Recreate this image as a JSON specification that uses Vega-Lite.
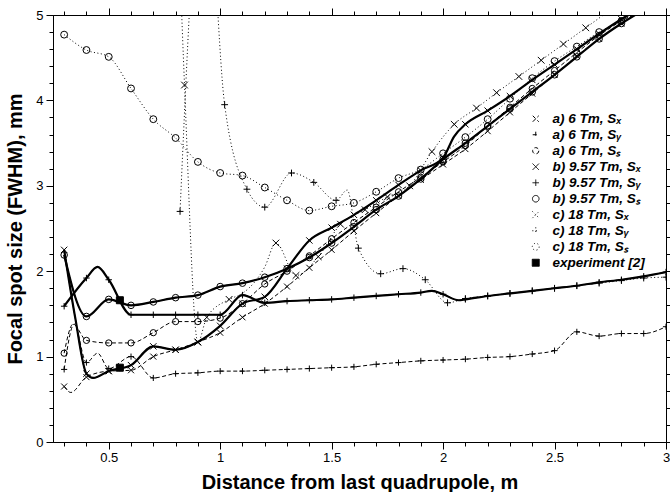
{
  "$schema": "https://vega.github.io/schema/vega-lite/v6.json",
  "width": 613,
  "height": 427,
  "autosize": {"type": "none"},
  "padding": {"left": 53, "top": 15, "right": 4, "bottom": 50},
  "config": {
    "font": "Liberation Sans",
    "view": {"stroke": "black", "strokeWidth": 1},
    "axis": {"domainColor": "black", "tickColor": "black", "labelColor": "black", "titleColor": "black", "grid": false, "labelFontSize": 13, "labelFont": "Liberation Sans", "titleFont": "Liberation Sans", "titleFontWeight": "bold", "titleFontSize": 20}
  },
  "datasets": {
    "curves": [
      {"s":"a) 6 Tm, Sₓ","x":0.3,"y":0.65},{"s":"a) 6 Tm, Sₓ","x":0.33,"y":0.58,"sym":0},{"s":"a) 6 Tm, Sₓ","x":0.4,"y":0.76},{"s":"a) 6 Tm, Sₓ","x":0.5,"y":0.83},{"s":"a) 6 Tm, Sₓ","x":0.6,"y":0.84},{"s":"a) 6 Tm, Sₓ","x":0.7,"y":1.0},{"s":"a) 6 Tm, Sₓ","x":0.8,"y":1.08},{"s":"a) 6 Tm, Sₓ","x":0.9,"y":1.17},{"s":"a) 6 Tm, Sₓ","x":1.0,"y":1.28},{"s":"a) 6 Tm, Sₓ","x":1.1,"y":1.46},{"s":"a) 6 Tm, Sₓ","x":1.2,"y":1.62},{"s":"a) 6 Tm, Sₓ","x":1.3,"y":1.82},{"s":"a) 6 Tm, Sₓ","x":1.4,"y":2.04},{"s":"a) 6 Tm, Sₓ","x":1.5,"y":2.25},{"s":"a) 6 Tm, Sₓ","x":1.6,"y":2.47},{"s":"a) 6 Tm, Sₓ","x":1.7,"y":2.68},{"s":"a) 6 Tm, Sₓ","x":1.8,"y":2.88},{"s":"a) 6 Tm, Sₓ","x":1.9,"y":3.07},{"s":"a) 6 Tm, Sₓ","x":2.0,"y":3.25},{"s":"a) 6 Tm, Sₓ","x":2.1,"y":3.43},{"s":"a) 6 Tm, Sₓ","x":2.2,"y":3.64},{"s":"a) 6 Tm, Sₓ","x":2.3,"y":3.86},{"s":"a) 6 Tm, Sₓ","x":2.4,"y":4.08},{"s":"a) 6 Tm, Sₓ","x":2.5,"y":4.3},{"s":"a) 6 Tm, Sₓ","x":2.6,"y":4.52},{"s":"a) 6 Tm, Sₓ","x":2.7,"y":4.72},{"s":"a) 6 Tm, Sₓ","x":2.8,"y":4.9},{"s":"a) 6 Tm, Sₓ","x":2.9,"y":5.06},

      {"s":"a) 6 Tm, Sᵧ","x":0.3,"y":0.85},{"s":"a) 6 Tm, Sᵧ","x":0.345,"y":1.38,"sym":0},{"s":"a) 6 Tm, Sᵧ","x":0.4,"y":0.93},{"s":"a) 6 Tm, Sᵧ","x":0.45,"y":1.04,"sym":0},{"s":"a) 6 Tm, Sᵧ","x":0.5,"y":0.86},{"s":"a) 6 Tm, Sᵧ","x":0.6,"y":1.0},{"s":"a) 6 Tm, Sᵧ","x":0.7,"y":0.75},{"s":"a) 6 Tm, Sᵧ","x":0.8,"y":0.8},{"s":"a) 6 Tm, Sᵧ","x":0.9,"y":0.81},{"s":"a) 6 Tm, Sᵧ","x":1.0,"y":0.83},{"s":"a) 6 Tm, Sᵧ","x":1.1,"y":0.83},{"s":"a) 6 Tm, Sᵧ","x":1.2,"y":0.84},{"s":"a) 6 Tm, Sᵧ","x":1.3,"y":0.85},{"s":"a) 6 Tm, Sᵧ","x":1.4,"y":0.86},{"s":"a) 6 Tm, Sᵧ","x":1.5,"y":0.87},{"s":"a) 6 Tm, Sᵧ","x":1.6,"y":0.88},{"s":"a) 6 Tm, Sᵧ","x":1.7,"y":0.91},{"s":"a) 6 Tm, Sᵧ","x":1.8,"y":0.93},{"s":"a) 6 Tm, Sᵧ","x":1.9,"y":0.95},{"s":"a) 6 Tm, Sᵧ","x":2.0,"y":0.96},{"s":"a) 6 Tm, Sᵧ","x":2.1,"y":0.97},{"s":"a) 6 Tm, Sᵧ","x":2.2,"y":0.99},{"s":"a) 6 Tm, Sᵧ","x":2.3,"y":1.0},{"s":"a) 6 Tm, Sᵧ","x":2.4,"y":1.03},{"s":"a) 6 Tm, Sᵧ","x":2.5,"y":1.07},{"s":"a) 6 Tm, Sᵧ","x":2.6,"y":1.29},{"s":"a) 6 Tm, Sᵧ","x":2.7,"y":1.24},{"s":"a) 6 Tm, Sᵧ","x":2.8,"y":1.27},{"s":"a) 6 Tm, Sᵧ","x":2.9,"y":1.27},{"s":"a) 6 Tm, Sᵧ","x":3.0,"y":1.35},

      {"s":"a) 6 Tm, Sₛ","x":0.3,"y":1.04},{"s":"a) 6 Tm, Sₛ","x":0.34,"y":1.38,"sym":0},{"s":"a) 6 Tm, Sₛ","x":0.4,"y":1.19},{"s":"a) 6 Tm, Sₛ","x":0.5,"y":1.16},{"s":"a) 6 Tm, Sₛ","x":0.6,"y":1.16},{"s":"a) 6 Tm, Sₛ","x":0.7,"y":1.28},{"s":"a) 6 Tm, Sₛ","x":0.8,"y":1.41},{"s":"a) 6 Tm, Sₛ","x":0.9,"y":1.41},{"s":"a) 6 Tm, Sₛ","x":1.0,"y":1.45},{"s":"a) 6 Tm, Sₛ","x":1.1,"y":1.62},{"s":"a) 6 Tm, Sₛ","x":1.2,"y":1.85},{"s":"a) 6 Tm, Sₛ","x":1.3,"y":2.0},{"s":"a) 6 Tm, Sₛ","x":1.4,"y":2.18},{"s":"a) 6 Tm, Sₛ","x":1.5,"y":2.38},{"s":"a) 6 Tm, Sₛ","x":1.6,"y":2.57},{"s":"a) 6 Tm, Sₛ","x":1.7,"y":2.75},{"s":"a) 6 Tm, Sₛ","x":1.8,"y":2.93},{"s":"a) 6 Tm, Sₛ","x":1.9,"y":3.1},{"s":"a) 6 Tm, Sₛ","x":2.0,"y":3.28},{"s":"a) 6 Tm, Sₛ","x":2.1,"y":3.47},{"s":"a) 6 Tm, Sₛ","x":2.2,"y":3.7},{"s":"a) 6 Tm, Sₛ","x":2.3,"y":3.92},{"s":"a) 6 Tm, Sₛ","x":2.4,"y":4.14},{"s":"a) 6 Tm, Sₛ","x":2.5,"y":4.35},{"s":"a) 6 Tm, Sₛ","x":2.6,"y":4.56},{"s":"a) 6 Tm, Sₛ","x":2.7,"y":4.76},{"s":"a) 6 Tm, Sₛ","x":2.8,"y":4.93},{"s":"a) 6 Tm, Sₛ","x":2.9,"y":5.06},

      {"s":"b) 9.57 Tm, Sₓ","x":0.3,"y":2.25},{"s":"b) 9.57 Tm, Sₓ","x":0.35,"y":1.45,"sym":0},{"s":"b) 9.57 Tm, Sₓ","x":0.4,"y":0.8},{"s":"b) 9.57 Tm, Sₓ","x":0.43,"y":0.75,"sym":0},{"s":"b) 9.57 Tm, Sₓ","x":0.5,"y":0.83},{"s":"b) 9.57 Tm, Sₓ","x":0.6,"y":0.9},{"s":"b) 9.57 Tm, Sₓ","x":0.7,"y":1.12},{"s":"b) 9.57 Tm, Sₓ","x":0.8,"y":1.08},{"s":"b) 9.57 Tm, Sₓ","x":0.9,"y":1.17},{"s":"b) 9.57 Tm, Sₓ","x":1.0,"y":1.36},{"s":"b) 9.57 Tm, Sₓ","x":1.1,"y":1.62},{"s":"b) 9.57 Tm, Sₓ","x":1.2,"y":1.7},{"s":"b) 9.57 Tm, Sₓ","x":1.3,"y":2.03},{"s":"b) 9.57 Tm, Sₓ","x":1.4,"y":2.36},{"s":"b) 9.57 Tm, Sₓ","x":1.5,"y":2.51},{"s":"b) 9.57 Tm, Sₓ","x":1.6,"y":2.66},{"s":"b) 9.57 Tm, Sₓ","x":1.7,"y":2.83},{"s":"b) 9.57 Tm, Sₓ","x":1.8,"y":3.01},{"s":"b) 9.57 Tm, Sₓ","x":1.9,"y":3.18},{"s":"b) 9.57 Tm, Sₓ","x":2.0,"y":3.33},{"s":"b) 9.57 Tm, Sₓ","x":2.05,"y":3.58,"sym":0},{"s":"b) 9.57 Tm, Sₓ","x":2.1,"y":3.72},{"s":"b) 9.57 Tm, Sₓ","x":2.2,"y":3.88},{"s":"b) 9.57 Tm, Sₓ","x":2.3,"y":4.05},{"s":"b) 9.57 Tm, Sₓ","x":2.4,"y":4.24},{"s":"b) 9.57 Tm, Sₓ","x":2.5,"y":4.42},{"s":"b) 9.57 Tm, Sₓ","x":2.6,"y":4.6},{"s":"b) 9.57 Tm, Sₓ","x":2.7,"y":4.78},{"s":"b) 9.57 Tm, Sₓ","x":2.8,"y":4.95},{"s":"b) 9.57 Tm, Sₓ","x":2.9,"y":5.1},

      {"s":"b) 9.57 Tm, Sᵧ","x":0.3,"y":1.59},{"s":"b) 9.57 Tm, Sᵧ","x":0.4,"y":1.92},{"s":"b) 9.57 Tm, Sᵧ","x":0.45,"y":2.05,"sym":0},{"s":"b) 9.57 Tm, Sᵧ","x":0.5,"y":1.9},{"s":"b) 9.57 Tm, Sᵧ","x":0.6,"y":1.49},{"s":"b) 9.57 Tm, Sᵧ","x":0.7,"y":1.49},{"s":"b) 9.57 Tm, Sᵧ","x":0.8,"y":1.49},{"s":"b) 9.57 Tm, Sᵧ","x":0.9,"y":1.49},{"s":"b) 9.57 Tm, Sᵧ","x":1.0,"y":1.49},{"s":"b) 9.57 Tm, Sᵧ","x":1.1,"y":1.72},{"s":"b) 9.57 Tm, Sᵧ","x":1.2,"y":1.63},{"s":"b) 9.57 Tm, Sᵧ","x":1.3,"y":1.65},{"s":"b) 9.57 Tm, Sᵧ","x":1.4,"y":1.66},{"s":"b) 9.57 Tm, Sᵧ","x":1.5,"y":1.67},{"s":"b) 9.57 Tm, Sᵧ","x":1.6,"y":1.69},{"s":"b) 9.57 Tm, Sᵧ","x":1.7,"y":1.71},{"s":"b) 9.57 Tm, Sᵧ","x":1.8,"y":1.73},{"s":"b) 9.57 Tm, Sᵧ","x":1.9,"y":1.75},{"s":"b) 9.57 Tm, Sᵧ","x":1.95,"y":1.77,"sym":0},{"s":"b) 9.57 Tm, Sᵧ","x":2.0,"y":1.73},{"s":"b) 9.57 Tm, Sᵧ","x":2.07,"y":1.66,"sym":0},{"s":"b) 9.57 Tm, Sᵧ","x":2.1,"y":1.67},{"s":"b) 9.57 Tm, Sᵧ","x":2.2,"y":1.71},{"s":"b) 9.57 Tm, Sᵧ","x":2.3,"y":1.74},{"s":"b) 9.57 Tm, Sᵧ","x":2.4,"y":1.77},{"s":"b) 9.57 Tm, Sᵧ","x":2.5,"y":1.8},{"s":"b) 9.57 Tm, Sᵧ","x":2.6,"y":1.83},{"s":"b) 9.57 Tm, Sᵧ","x":2.7,"y":1.87},{"s":"b) 9.57 Tm, Sᵧ","x":2.8,"y":1.9},{"s":"b) 9.57 Tm, Sᵧ","x":2.9,"y":1.94},{"s":"b) 9.57 Tm, Sᵧ","x":3.0,"y":1.99},

      {"s":"b) 9.57 Tm, Sₛ","x":0.3,"y":2.19},{"s":"b) 9.57 Tm, Sₛ","x":0.4,"y":1.47},{"s":"b) 9.57 Tm, Sₛ","x":0.5,"y":1.67},{"s":"b) 9.57 Tm, Sₛ","x":0.6,"y":1.6},{"s":"b) 9.57 Tm, Sₛ","x":0.7,"y":1.64},{"s":"b) 9.57 Tm, Sₛ","x":0.8,"y":1.69},{"s":"b) 9.57 Tm, Sₛ","x":0.9,"y":1.72},{"s":"b) 9.57 Tm, Sₛ","x":1.0,"y":1.82},{"s":"b) 9.57 Tm, Sₛ","x":1.1,"y":1.86},{"s":"b) 9.57 Tm, Sₛ","x":1.2,"y":1.93},{"s":"b) 9.57 Tm, Sₛ","x":1.3,"y":2.03},{"s":"b) 9.57 Tm, Sₛ","x":1.4,"y":2.16},{"s":"b) 9.57 Tm, Sₛ","x":1.5,"y":2.33},{"s":"b) 9.57 Tm, Sₛ","x":1.6,"y":2.52},{"s":"b) 9.57 Tm, Sₛ","x":1.7,"y":2.72},{"s":"b) 9.57 Tm, Sₛ","x":1.8,"y":2.88},{"s":"b) 9.57 Tm, Sₛ","x":1.9,"y":3.08},{"s":"b) 9.57 Tm, Sₛ","x":2.0,"y":3.31},{"s":"b) 9.57 Tm, Sₛ","x":2.1,"y":3.5},{"s":"b) 9.57 Tm, Sₛ","x":2.2,"y":3.7},{"s":"b) 9.57 Tm, Sₛ","x":2.3,"y":3.9},{"s":"b) 9.57 Tm, Sₛ","x":2.4,"y":4.1},{"s":"b) 9.57 Tm, Sₛ","x":2.5,"y":4.3},{"s":"b) 9.57 Tm, Sₛ","x":2.6,"y":4.51},{"s":"b) 9.57 Tm, Sₛ","x":2.7,"y":4.72},{"s":"b) 9.57 Tm, Sₛ","x":2.8,"y":4.9},{"s":"b) 9.57 Tm, Sₛ","x":2.9,"y":5.06},

      {"s":"c) 18 Tm, Sₓ","x":0.8,"y":7.0,"sym":0},{"s":"c) 18 Tm, Sₓ","x":0.84,"y":4.18},{"s":"c) 18 Tm, Sₓ","x":0.9,"y":1.17},{"s":"c) 18 Tm, Sₓ","x":0.94,"y":1.46},{"s":"c) 18 Tm, Sₓ","x":1.04,"y":1.67},{"s":"c) 18 Tm, Sₓ","x":1.1,"y":1.74,"sym":0},{"s":"c) 18 Tm, Sₓ","x":1.2,"y":2.05,"sym":0},{"s":"c) 18 Tm, Sₓ","x":1.25,"y":2.33},{"s":"c) 18 Tm, Sₓ","x":1.34,"y":1.95},{"s":"c) 18 Tm, Sₓ","x":1.44,"y":2.17},{"s":"c) 18 Tm, Sₓ","x":1.54,"y":2.55},{"s":"c) 18 Tm, Sₓ","x":1.65,"y":2.72},{"s":"c) 18 Tm, Sₓ","x":1.75,"y":2.87},{"s":"c) 18 Tm, Sₓ","x":1.85,"y":3.0},{"s":"c) 18 Tm, Sₓ","x":1.95,"y":3.4},{"s":"c) 18 Tm, Sₓ","x":2.05,"y":3.72},{"s":"c) 18 Tm, Sₓ","x":2.15,"y":3.91},{"s":"c) 18 Tm, Sₓ","x":2.24,"y":4.09},{"s":"c) 18 Tm, Sₓ","x":2.34,"y":4.28},{"s":"c) 18 Tm, Sₓ","x":2.44,"y":4.47},{"s":"c) 18 Tm, Sₓ","x":2.54,"y":4.66},{"s":"c) 18 Tm, Sₓ","x":2.64,"y":4.85},{"s":"c) 18 Tm, Sₓ","x":2.74,"y":5.04},

      {"s":"c) 18 Tm, Sᵧ","x":0.82,"y":2.7},{"s":"c) 18 Tm, Sᵧ","x":0.93,"y":7.0,"sym":0},{"s":"c) 18 Tm, Sᵧ","x":1.02,"y":3.95},{"s":"c) 18 Tm, Sᵧ","x":1.12,"y":2.96},{"s":"c) 18 Tm, Sᵧ","x":1.2,"y":2.75},{"s":"c) 18 Tm, Sᵧ","x":1.32,"y":3.15},{"s":"c) 18 Tm, Sᵧ","x":1.42,"y":3.04},{"s":"c) 18 Tm, Sᵧ","x":1.52,"y":2.83},{"s":"c) 18 Tm, Sᵧ","x":1.57,"y":2.95,"sym":0},{"s":"c) 18 Tm, Sᵧ","x":1.62,"y":2.27},{"s":"c) 18 Tm, Sᵧ","x":1.72,"y":1.97},{"s":"c) 18 Tm, Sᵧ","x":1.82,"y":2.03},{"s":"c) 18 Tm, Sᵧ","x":1.92,"y":1.9},{"s":"c) 18 Tm, Sᵧ","x":2.02,"y":1.63},{"s":"c) 18 Tm, Sᵧ","x":2.1,"y":1.68},{"s":"c) 18 Tm, Sᵧ","x":2.2,"y":1.71},{"s":"c) 18 Tm, Sᵧ","x":2.3,"y":1.74},{"s":"c) 18 Tm, Sᵧ","x":2.4,"y":1.77},{"s":"c) 18 Tm, Sᵧ","x":2.5,"y":1.8},{"s":"c) 18 Tm, Sᵧ","x":2.6,"y":1.83},{"s":"c) 18 Tm, Sᵧ","x":2.7,"y":1.86},{"s":"c) 18 Tm, Sᵧ","x":2.8,"y":1.89},{"s":"c) 18 Tm, Sᵧ","x":2.9,"y":1.92},{"s":"c) 18 Tm, Sᵧ","x":3.0,"y":1.93},

      {"s":"c) 18 Tm, Sₛ","x":0.3,"y":4.77},{"s":"c) 18 Tm, Sₛ","x":0.4,"y":4.59},{"s":"c) 18 Tm, Sₛ","x":0.5,"y":4.51},{"s":"c) 18 Tm, Sₛ","x":0.6,"y":4.14},{"s":"c) 18 Tm, Sₛ","x":0.7,"y":3.78},{"s":"c) 18 Tm, Sₛ","x":0.8,"y":3.56},{"s":"c) 18 Tm, Sₛ","x":0.9,"y":3.28},{"s":"c) 18 Tm, Sₛ","x":1.0,"y":3.15},{"s":"c) 18 Tm, Sₛ","x":1.1,"y":3.12},{"s":"c) 18 Tm, Sₛ","x":1.2,"y":2.98},{"s":"c) 18 Tm, Sₛ","x":1.3,"y":2.83},{"s":"c) 18 Tm, Sₛ","x":1.4,"y":2.71},{"s":"c) 18 Tm, Sₛ","x":1.5,"y":2.76},{"s":"c) 18 Tm, Sₛ","x":1.6,"y":2.8},{"s":"c) 18 Tm, Sₛ","x":1.7,"y":2.93},{"s":"c) 18 Tm, Sₛ","x":1.8,"y":3.09},{"s":"c) 18 Tm, Sₛ","x":1.9,"y":3.19},{"s":"c) 18 Tm, Sₛ","x":2.0,"y":3.38},{"s":"c) 18 Tm, Sₛ","x":2.1,"y":3.57},{"s":"c) 18 Tm, Sₛ","x":2.2,"y":3.78},{"s":"c) 18 Tm, Sₛ","x":2.3,"y":4.02},{"s":"c) 18 Tm, Sₛ","x":2.4,"y":4.26},{"s":"c) 18 Tm, Sₛ","x":2.5,"y":4.46},{"s":"c) 18 Tm, Sₛ","x":2.6,"y":4.63},{"s":"c) 18 Tm, Sₛ","x":2.7,"y":4.8},{"s":"c) 18 Tm, Sₛ","x":2.8,"y":4.93},{"s":"c) 18 Tm, Sₛ","x":2.9,"y":5.06},

      {"s":"experiment [2]","x":0.55,"y":1.66},{"s":"experiment [2]","x":0.55,"y":0.87}
    ]
  },
  "data": {"name": "curves"},
  "resolve": {"axis": {"x": "independent", "y": "independent"}},
  "layer": [
    {
      "transform": [{"filter": "datum.s !== 'experiment [2]'"}],
      "mark": {"type": "line", "interpolate": "monotone", "clip": true, "color": "black"},
      "encoding": {
        "x": {"field": "x", "type": "quantitative", "scale": {"domain": [0.25, 3], "nice": false, "zero": false},
          "axis": {"orient": "bottom", "title": "Distance from last quadrupole, m", "values": [0.3,0.4,0.5,0.6,0.7,0.8,0.9,1,1.1,1.2,1.3,1.4,1.5,1.6,1.7,1.8,1.9,2,2.1,2.2,2.3,2.4,2.5,2.6,2.7,2.8,2.9,3],
            "labelExpr": "abs(datum.value*2-round(datum.value*2))<0.001 ? format(datum.value, '.2~f') : ''",
            "tickSize": {"condition": {"test": "abs(datum.value*2-round(datum.value*2))<0.001", "value": 7}, "value": 4},
            "labelPadding": 2, "titlePadding": 8, "labelFlush": false, "labelOverlap": false}},
        "y": {"field": "y", "type": "quantitative", "scale": {"domain": [0, 5], "nice": false},
          "axis": {"orient": "left", "title": "Focal spot size (FWHM), mm", "values": [0,0.2,0.4,0.6,0.8,1,1.2,1.4,1.6,1.8,2,2.2,2.4,2.6,2.8,3,3.2,3.4,3.6,3.8,4,4.2,4.4,4.6,4.8,5],
            "labelExpr": "abs(datum.value-round(datum.value))<0.001 ? format(datum.value, 'd') : ''",
            "tickSize": {"condition": {"test": "abs(datum.value-round(datum.value))<0.001", "value": 7}, "value": 4},
            "labelPadding": 3, "titlePadding": 10, "labelFlush": false, "labelOverlap": false}},
        "strokeDash": {"field": "s", "type": "nominal",
          "scale": {"domain": ["a) 6 Tm, Sₓ","a) 6 Tm, Sᵧ","a) 6 Tm, Sₛ","b) 9.57 Tm, Sₓ","b) 9.57 Tm, Sᵧ","b) 9.57 Tm, Sₛ","c) 18 Tm, Sₓ","c) 18 Tm, Sᵧ","c) 18 Tm, Sₛ","experiment [2]"],
            "range": [[4,2.5],[4,2.5],[4,2.5],[1,0],[1,0],[1,0],[1,2.5],[1,2.5],[1,2.5],[1,0]]},
          "legend": {"title": null, "orient": "none", "legendX": 476, "legendY": 97, "labelFontSize": 13.5, "labelFontWeight": "bold", "labelFontStyle": "italic", "labelColor": "black", "rowPadding": 1, "padding": 0, "labelOffset": 10, "symbolStrokeColor": "black"}},
        "strokeWidth": {"field": "s", "type": "nominal",
          "scale": {"domain": ["a) 6 Tm, Sₓ","a) 6 Tm, Sᵧ","a) 6 Tm, Sₛ","b) 9.57 Tm, Sₓ","b) 9.57 Tm, Sᵧ","b) 9.57 Tm, Sₛ","c) 18 Tm, Sₓ","c) 18 Tm, Sᵧ","c) 18 Tm, Sₛ","experiment [2]"],
            "range": [1,1,1,2,2,2,1,1,1,1]},
          "legend": {"title": null, "orient": "none", "legendX": 476, "legendY": 97, "labelFontSize": 13.5, "labelFontWeight": "bold", "labelFontStyle": "italic", "labelColor": "black", "rowPadding": 1, "padding": 0, "labelOffset": 10}}
      }
    },
    {
      "transform": [{"filter": "slice(datum.s, 0, 1) === 'b'"}],
      "mark": {"type": "line", "interpolate": "monotone", "clip": true, "color": "black", "strokeWidth": 2.2},
      "encoding": {
        "x": {"field": "x", "type": "quantitative", "axis": null},
        "y": {"field": "y", "type": "quantitative", "axis": null},
        "detail": {"field": "s", "type": "nominal"}
      }
    },
    {
      "transform": [{"filter": "datum.sym !== 0"}],
      "mark": {"type": "point", "clip": true, "stroke": "black", "strokeWidth": 1, "opacity": 1},
      "encoding": {
        "x": {"field": "x", "type": "quantitative",
          "axis": {"orient": "top", "title": null, "values": [0.3,0.4,0.5,0.6,0.7,0.8,0.9,1,1.1,1.2,1.3,1.4,1.5,1.6,1.7,1.8,1.9,2,2.1,2.2,2.3,2.4,2.5,2.6,2.7,2.8,2.9,3], "labels": false,
            "tickSize": {"condition": {"test": "abs(datum.value*2-round(datum.value*2))<0.001", "value": 7}, "value": 4}}},
        "y": {"field": "y", "type": "quantitative",
          "axis": {"orient": "right", "title": null, "values": [0,0.2,0.4,0.6,0.8,1,1.2,1.4,1.6,1.8,2,2.2,2.4,2.6,2.8,3,3.2,3.4,3.6,3.8,4,4.2,4.4,4.6,4.8,5], "labels": false,
            "tickSize": {"condition": {"test": "abs(datum.value-round(datum.value))<0.001", "value": 7}, "value": 4}}},
        "shape": {"field": "s", "type": "nominal",
          "scale": {"domain": ["a) 6 Tm, Sₓ","a) 6 Tm, Sᵧ","a) 6 Tm, Sₛ","b) 9.57 Tm, Sₓ","b) 9.57 Tm, Sᵧ","b) 9.57 Tm, Sₛ","c) 18 Tm, Sₓ","c) 18 Tm, Sᵧ","c) 18 Tm, Sₛ","experiment [2]"],
            "range": ["M-1,-1L1,1M-1,1L1,-1","M-1,0L1,0M0,-1L0,1","circle","M-1,-1L1,1M-1,1L1,-1","M-1,0L1,0M0,-1L0,1","circle","M-1,-1L1,1M-1,1L1,-1","M-1,0L1,0M0,-1L0,1","circle","square"]},
          "legend": {"title": null, "orient": "none", "legendX": 476, "legendY": 97, "labelFontSize": 13.5, "labelFontWeight": "bold", "labelFontStyle": "italic", "labelColor": "black", "rowPadding": 1, "padding": 0, "labelOffset": 10}},
        "size": {"field": "s", "type": "nominal",
          "scale": {"domain": ["a) 6 Tm, Sₓ","a) 6 Tm, Sᵧ","a) 6 Tm, Sₛ","b) 9.57 Tm, Sₓ","b) 9.57 Tm, Sᵧ","b) 9.57 Tm, Sₛ","c) 18 Tm, Sₓ","c) 18 Tm, Sᵧ","c) 18 Tm, Sₛ","experiment [2]"],
            "range": [36,49,25,36,49,25,36,49,25,80]},
          "legend": {"title": null, "orient": "none", "legendX": 476, "legendY": 97, "labelFontSize": 13.5, "labelFontWeight": "bold", "labelFontStyle": "italic", "labelColor": "black", "rowPadding": 1, "padding": 0, "labelOffset": 10}},
        "fill": {"field": "s", "type": "nominal",
          "scale": {"domain": ["a) 6 Tm, Sₓ","a) 6 Tm, Sᵧ","a) 6 Tm, Sₛ","b) 9.57 Tm, Sₓ","b) 9.57 Tm, Sᵧ","b) 9.57 Tm, Sₛ","c) 18 Tm, Sₓ","c) 18 Tm, Sᵧ","c) 18 Tm, Sₛ","experiment [2]"],
            "range": ["transparent","transparent","transparent","transparent","transparent","transparent","transparent","transparent","transparent","black"]},
          "legend": {"title": null, "orient": "none", "legendX": 476, "legendY": 97, "labelFontSize": 13.5, "labelFontWeight": "bold", "labelFontStyle": "italic", "labelColor": "black", "rowPadding": 1, "padding": 0, "labelOffset": 10}}
      }
    }
  ]
}
